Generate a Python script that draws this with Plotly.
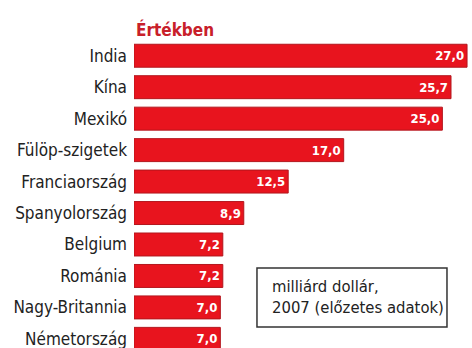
import plotly.graph_objects as go

# Export value by country, billion USD (2007, preliminary)
countries = ["India", "Kína", "Mexikó", "Fülöp-szigetek", "Franciaország",
             "Spanyolország", "Belgium", "Románia", "Nagy-Britannia", "Németország"]
values = [27.0, 25.7, 25.0, 17.0, 12.5, 8.9, 7.2, 7.2, 7.0, 7.0]
value_labels = ["27,0", "25,7", "25,0", "17,0", "12,5", "8,9", "7,2", "7,2", "7,0", "7,0"]

title_text = "Értékben"
note_text = "milliárd dollár,<br>2007 (előzetes adatok)"

FONT = "DejaVu Sans Condensed, Roboto, sans-serif"

W, H = 472, 348
L, R, T, B = 134, 2, 40, 0

fig = go.Figure()
fig.add_trace(go.Bar(
    x=values,
    y=countries,
    orientation="h",
    text=value_labels,
    textposition="inside",
    insidetextanchor="end",
    textangle=0,
    insidetextfont=dict(family=FONT, size=13, color="white", weight="bold"),
    marker=dict(color="#e8141e", line=dict(color="#b3161d", width=1)),
    cliponaxis=True,
    hoverinfo="skip",
))

# Unit note: framed box with two lines of text
fig.add_shape(
    type="rect", xref="paper", yref="paper",
    x0=0.366, x1=0.9315, y0=0.068, y1=0.26,
    line=dict(color="#333333", width=1.5), fillcolor="white", layer="above",
)

fig.update_layout(
    width=W, height=H,
    margin=dict(l=L, r=R, t=T, b=B, pad=0),
    paper_bgcolor="white",
    plot_bgcolor="white",
    bargap=0.27,
    showlegend=False,
    xaxis=dict(range=[0, 27.24], visible=False, fixedrange=True),
    yaxis=dict(
        categoryorder="array",
        categoryarray=countries,
        range=[9.29, -0.5],
        showgrid=False, zeroline=False, showline=False,
        ticks="", ticklabelstandoff=6,
        tickfont=dict(family=FONT, size=17, color="#222222"),
    ),
    annotations=[
        dict(
            text=title_text, xref="paper", yref="paper", x=0, y=1,
            xanchor="left", yanchor="bottom", yshift=-2, showarrow=False,
            font=dict(family=FONT, size=17, color="#c8202a", weight="bold"),
        ),
        dict(
            text=note_text, xref="paper", yref="paper", x=0.405, y=0.164,
            xanchor="left", yanchor="middle", showarrow=False, align="left",
            font=dict(family=FONT, size=16.5, color="#222222"),
        ),
    ],
)

fig.write_html("out.html")
